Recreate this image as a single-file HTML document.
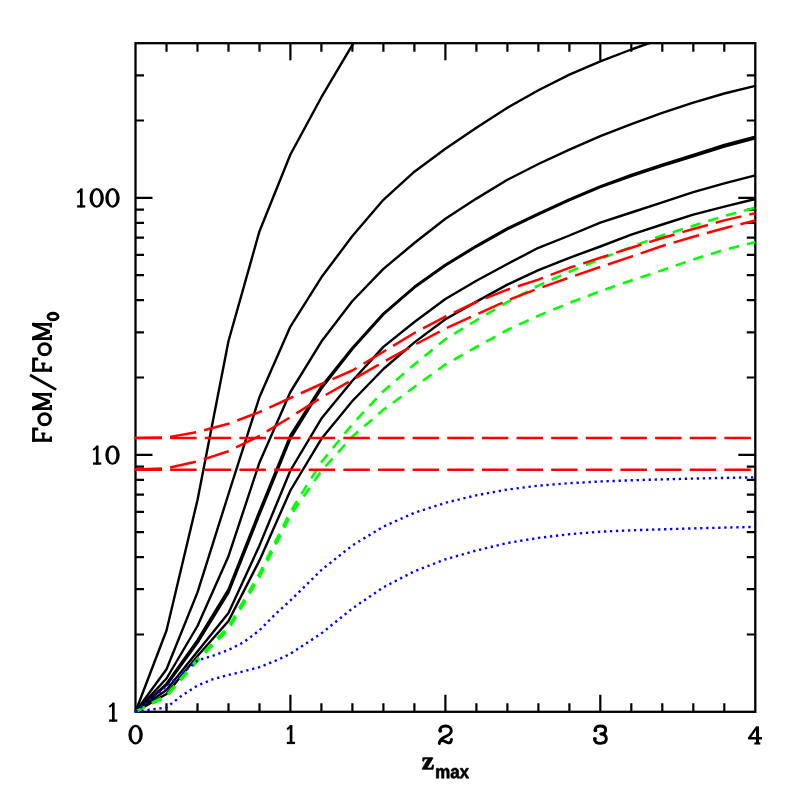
<!DOCTYPE html>
<html><head><meta charset="utf-8"><title>FoM vs zmax</title>
<style>html,body{margin:0;padding:0;background:#fff;}body{width:797px;height:797px;overflow:hidden;font-family:"Liberation Sans",sans-serif;}svg{display:block;}</style>
</head><body>
<svg width="797" height="797" viewBox="0 0 797 797">
<rect x="0" y="0" width="797" height="797" fill="#ffffff"/>
<defs><clipPath id="cp"><rect x="134.3" y="42.0" width="622.2" height="671.0"/></clipPath></defs>
<g stroke="#000" fill="none" stroke-linecap="butt">
<rect x="135.5" y="43.2" width="619.8" height="668.6" stroke-width="2.3"/>
<path d="M166.5,711.8 v-8.5 M166.5,43.2 v8.5 M197.5,711.8 v-8.5 M197.5,43.2 v8.5 M228.5,711.8 v-8.5 M228.5,43.2 v8.5 M259.5,711.8 v-8.5 M259.5,43.2 v8.5 M290.4,711.8 v-17.0 M290.4,43.2 v17.0 M321.4,711.8 v-8.5 M321.4,43.2 v8.5 M352.4,711.8 v-8.5 M352.4,43.2 v8.5 M383.4,711.8 v-8.5 M383.4,43.2 v8.5 M414.4,711.8 v-8.5 M414.4,43.2 v8.5 M445.4,711.8 v-17.0 M445.4,43.2 v17.0 M476.4,711.8 v-8.5 M476.4,43.2 v8.5 M507.4,711.8 v-8.5 M507.4,43.2 v8.5 M538.4,711.8 v-8.5 M538.4,43.2 v8.5 M569.4,711.8 v-8.5 M569.4,43.2 v8.5 M600.3,711.8 v-17.0 M600.3,43.2 v17.0 M631.3,711.8 v-8.5 M631.3,43.2 v8.5 M662.3,711.8 v-8.5 M662.3,43.2 v8.5 M693.3,711.8 v-8.5 M693.3,43.2 v8.5 M724.3,711.8 v-8.5 M724.3,43.2 v8.5 M135.5,634.5 h8.5 M755.3,634.5 h-8.5 M135.5,589.2 h8.5 M755.3,589.2 h-8.5 M135.5,557.1 h8.5 M755.3,557.1 h-8.5 M135.5,532.2 h8.5 M755.3,532.2 h-8.5 M135.5,511.9 h8.5 M755.3,511.9 h-8.5 M135.5,494.7 h8.5 M755.3,494.7 h-8.5 M135.5,479.8 h8.5 M755.3,479.8 h-8.5 M135.5,466.6 h8.5 M755.3,466.6 h-8.5 M135.5,454.8 h17.0 M755.3,454.8 h-17.0 M135.5,377.5 h8.5 M755.3,377.5 h-8.5 M135.5,332.3 h8.5 M755.3,332.3 h-8.5 M135.5,300.2 h8.5 M755.3,300.2 h-8.5 M135.5,275.2 h8.5 M755.3,275.2 h-8.5 M135.5,254.9 h8.5 M755.3,254.9 h-8.5 M135.5,237.7 h8.5 M755.3,237.7 h-8.5 M135.5,222.8 h8.5 M755.3,222.8 h-8.5 M135.5,209.7 h8.5 M755.3,209.7 h-8.5 M135.5,197.9 h17.0 M755.3,197.9 h-17.0 M135.5,120.5 h8.5 M755.3,120.5 h-8.5 M135.5,75.3 h8.5 M755.3,75.3 h-8.5" stroke-width="2.2"/>
</g>
<g clip-path="url(#cp)" fill="none" stroke-linejoin="round">
<path d="M135.5,711.8 L166.5,630.5 L197.5,500.0 L228.5,341.0 L259.5,231.2 L290.4,154.5 L321.4,97.2 L352.4,44.8 L383.4,-5.0" stroke="#000" stroke-width="2.4"/>
<path d="M135.5,711.8 L166.5,669.3 L197.5,592.4 L228.5,494.0 L259.5,397.0 L290.4,326.6 L321.4,277.3 L352.4,236.0 L383.4,199.8 L414.4,171.7 L445.4,148.7 L476.4,127.8 L507.4,107.8 L538.4,90.2 L569.4,74.6 L600.3,61.3 L631.3,49.5 L662.3,38.5 L693.3,28.0" stroke="#000" stroke-width="2.4"/>
<path d="M135.5,711.8 L166.5,678.5 L197.5,626.0 L228.5,556.2 L259.5,462.4 L290.4,392.0 L321.4,341.6 L352.4,301.0 L383.4,268.9 L414.4,243.0 L445.4,218.7 L476.4,198.6 L507.4,179.8 L538.4,164.0 L569.4,149.7 L600.3,136.1 L631.3,124.1 L662.3,112.8 L693.3,102.7 L724.3,93.5 L755.3,85.9" stroke="#000" stroke-width="2.4"/>
<path d="M135.5,711.8 L166.5,690.0 L197.5,651.5 L228.5,613.0 L259.5,545.4 L290.4,470.5 L321.4,418.6 L352.4,380.8 L383.4,346.9 L414.4,322.0 L445.4,299.0 L476.4,280.8 L507.4,264.0 L538.4,247.8 L569.4,235.5 L600.3,222.7 L631.3,212.5 L662.3,202.3 L693.3,192.2 L724.3,183.4 L755.3,175.3" stroke="#000" stroke-width="2.4"/>
<path d="M135.5,711.8 L166.5,694.0 L197.5,656.0 L228.5,621.0 L259.5,560.4 L290.4,490.5 L321.4,438.8 L352.4,401.0 L383.4,369.0 L414.4,342.4 L445.4,319.3 L476.4,301.6 L507.4,284.6 L538.4,270.2 L569.4,257.8 L600.3,246.5 L631.3,234.6 L662.3,224.5 L693.3,214.6 L724.3,206.6 L755.3,199.0" stroke="#000" stroke-width="2.4"/>
<path d="M135.5,711.8 L166.5,683.8 L197.5,640.1 L228.5,589.5 L259.5,511.2 L290.4,435.5 L321.4,386.5 L352.4,347.8 L383.4,313.6 L414.4,286.8 L445.4,264.8 L476.4,245.8 L507.4,228.3 L538.4,213.5 L569.4,199.4 L600.3,186.4 L631.3,175.0 L662.3,164.7 L693.3,155.0 L724.3,145.0 L755.3,136.6" stroke="#000" stroke-width="2.4"/>
<path d="M135.5,711.8 L166.5,685.2 L197.5,642.9 L228.5,592.5 L259.5,514.4 L290.4,438.5 L321.4,388.5 L352.4,349.0 L383.4,314.4 L414.4,287.6 L445.4,265.6 L476.4,246.6 L507.4,229.1 L538.4,214.3 L569.4,200.2 L600.3,187.2 L631.3,176.0 L662.3,165.9 L693.3,156.4 L724.3,146.6 L755.3,138.4" stroke="#000" stroke-width="2.4"/>
<path d="M135.5,711.8 L166.5,695.2 L197.5,658.8 L228.5,626.8 L259.5,573.6 L290.4,511.8 L321.4,462.3 L352.4,424.2 L383.4,391.2 L414.4,364.5 L445.4,339.3 L476.4,320.3 L507.4,302.1 L538.4,285.6 L569.4,271.8 L600.3,259.0 L631.3,247.0 L662.3,235.4 L693.3,225.8 L724.3,216.0 L755.3,207.8" stroke="#00ff00" stroke-width="2.6" stroke-dasharray="10.5 8.1"/>
<path d="M135.5,711.8 L166.5,696.6 L197.5,661.0 L228.5,629.4 L259.5,577.0 L290.4,515.5 L321.4,471.0 L352.4,436.6 L383.4,409.8 L414.4,387.0 L445.4,364.5 L476.4,347.0 L507.4,330.0 L538.4,315.7 L569.4,303.0 L600.3,291.2 L631.3,280.4 L662.3,270.3 L693.3,259.5 L724.3,249.8 L755.3,242.1" stroke="#00ff00" stroke-width="2.6" stroke-dasharray="10.5 8.1"/>
<path d="M134.3,438.0 h2" stroke="#ff0000" stroke-width="2.5"/>
<path d="M135.5,438.0 L755.3,438.0" stroke="#ff0000" stroke-width="2.5" stroke-dasharray="26.5 8.14"/>
<path d="M134.3,469.7 h2" stroke="#ff0000" stroke-width="2.5"/>
<path d="M135.5,469.7 L755.3,469.7" stroke="#ff0000" stroke-width="2.5" stroke-dasharray="26.5 8.14"/>
<path d="M135.5,438.0 L166.5,437.5 L197.5,432.0 L228.5,423.8 L259.5,412.1 L290.4,398.0 L321.4,384.0 L352.4,370.5 L383.4,351.7 L414.4,333.0 L445.4,316.6 L476.4,302.0 L507.4,289.7 L538.4,279.6 L569.4,267.8 L600.3,257.8 L631.3,247.8 L662.3,238.0 L693.3,229.0 L724.3,220.4 L755.3,213.1" stroke="#ff0000" stroke-width="2.5" stroke-dasharray="26.5 8.14"/>
<path d="M135.5,469.6 L166.5,468.4 L197.5,461.3 L228.5,451.3 L259.5,435.8 L290.4,417.2 L321.4,397.5 L352.4,379.8 L383.4,362.0 L414.4,345.0 L445.4,328.6 L476.4,314.5 L507.4,300.3 L538.4,288.5 L569.4,277.5 L600.3,267.0 L631.3,256.6 L662.3,246.0 L693.3,236.8 L724.3,228.2 L755.3,220.5" stroke="#ff0000" stroke-width="2.5" stroke-dasharray="26.5 8.14"/>
<path d="M135.5,711.8 L166.5,686.3 L197.5,660.5 L213.0,655.7 L228.5,650.0 L244.0,642.0 L259.5,630.3 L275.0,614.5 L290.4,600.5 L321.4,570.0 L352.4,545.4 L383.4,526.6 L414.4,512.8 L445.4,502.8 L476.4,495.3 L507.4,489.5 L538.4,485.7 L569.4,483.2 L600.3,481.5 L631.3,480.3 L662.3,479.4 L693.3,478.6 L724.3,477.9 L755.3,477.3" stroke="#0000ff" stroke-width="2.4" stroke-dasharray="2.3 3.72"/>
<path d="M135.5,711.8 L151.0,709.6 L166.5,707.5 L174.2,701.5 L182.0,695.5 L197.5,685.5 L213.0,679.2 L228.5,675.0 L244.0,671.3 L259.5,667.1 L275.0,661.0 L290.4,653.8 L321.4,633.4 L352.4,608.4 L383.4,587.3 L414.4,571.3 L445.4,559.3 L476.4,550.5 L507.4,543.0 L538.4,537.9 L569.4,534.2 L600.3,531.7 L631.3,530.3 L662.3,529.3 L693.3,528.4 L724.3,527.6 L755.3,526.9" stroke="#0000ff" stroke-width="2.4" stroke-dasharray="2.3 3.72"/>
</g>
<g>
<path fill="#000" fill-rule="evenodd" d="M128.40,734.65 a7.2,9.8 0 1,0 14.4,0 a7.2,9.8 0 1,0 -14.4,0 Z M131.70,734.65 a3.9,7.6 0 1,0 7.8,0 a3.9,7.6 0 1,0 -7.8,0 Z"/>
<path fill="none" stroke="#000" stroke-width="2.7" d="M291.05,725.05 V743.85"/><path fill="none" stroke="#000" stroke-width="2.0" d="M291.65,725.65 L287.05,729.35"/><path fill="none" stroke="#000" stroke-width="2.3" d="M286.85,742.95 H295.05"/>
<path fill="none" stroke="#000" stroke-width="2.9" stroke-linecap="round" stroke-linejoin="round" d="M440.10,731.05 C439.30,728.45 441.50,726.05 445.60,726.05 C449.50,726.05 451.30,728.25 451.30,730.65 C451.30,733.85 448.10,735.45 444.90,736.85 C441.70,738.25 439.70,740.25 439.30,743.45 M439.60,741.45 C441.10,740.05 443.50,740.45 446.10,742.05 C448.50,743.45 450.90,743.45 451.50,739.45"/><circle cx="440.30" cy="730.65" r="1.9" fill="#000"/>
<path fill="none" stroke="#000" stroke-width="2.9" stroke-linecap="round" stroke-linejoin="round" d="M595.25,730.45 C594.65,727.65 597.25,726.05 600.45,726.05 C603.85,726.05 605.65,727.65 605.65,730.05 C605.65,732.45 603.65,733.85 600.65,733.95 C604.25,734.05 606.35,736.05 606.35,738.85 C606.35,741.85 603.65,743.35 600.25,743.35 C596.85,743.35 594.25,741.85 594.65,739.05"/><circle cx="595.35" cy="730.25" r="1.9" fill="#000"/><circle cx="594.95" cy="738.85" r="1.9" fill="#000"/>
<path fill="none" stroke="#000" stroke-width="3.0" d="M757.50,726.35 V744.05"/><path fill="none" stroke="#000" stroke-width="2.3" stroke-linejoin="round" d="M756.90,727.05 L749.00,738.25 H762.00"/><path fill="none" stroke="#000" stroke-width="2.2" d="M754.30,743.45 H760.30"/>
<path fill="none" stroke="#000" stroke-width="2.7" d="M81.30,188.50 V207.30"/><path fill="none" stroke="#000" stroke-width="2.0" d="M81.90,189.10 L77.30,192.80"/><path fill="none" stroke="#000" stroke-width="2.3" d="M77.10,206.40 H85.30"/>
<path fill="#000" fill-rule="evenodd" d="M89.50,197.90 a7.2,9.8 0 1,0 14.4,0 a7.2,9.8 0 1,0 -14.4,0 Z M92.80,197.90 a3.9,7.6 0 1,0 7.8,0 a3.9,7.6 0 1,0 -7.8,0 Z"/>
<path fill="#000" fill-rule="evenodd" d="M105.30,197.90 a7.2,9.8 0 1,0 14.4,0 a7.2,9.8 0 1,0 -14.4,0 Z M108.60,197.90 a3.9,7.6 0 1,0 7.8,0 a3.9,7.6 0 1,0 -7.8,0 Z"/>
<path fill="none" stroke="#000" stroke-width="2.7" d="M97.20,445.65 V464.45"/><path fill="none" stroke="#000" stroke-width="2.0" d="M97.80,446.25 L93.20,449.95"/><path fill="none" stroke="#000" stroke-width="2.3" d="M93.00,463.55 H101.20"/>
<path fill="#000" fill-rule="evenodd" d="M105.30,455.05 a7.2,9.8 0 1,0 14.4,0 a7.2,9.8 0 1,0 -14.4,0 Z M108.60,455.05 a3.9,7.6 0 1,0 7.8,0 a3.9,7.6 0 1,0 -7.8,0 Z"/>
<path fill="none" stroke="#000" stroke-width="2.7" d="M113.30,702.70 V721.50"/><path fill="none" stroke="#000" stroke-width="2.0" d="M113.90,703.30 L109.30,707.00"/><path fill="none" stroke="#000" stroke-width="2.3" d="M109.10,720.60 H117.30"/>
</g>
<path transform="translate(421.70,769.20) scale(0.01367,-0.01221)" fill="#000" stroke="#000" stroke-width="66" stroke-linejoin="round" d="M40 0V45L472 850H365Q309 850 257 840Q205 831 185 815L154 660H82V940H812V891L380 90H530Q587 90 650 104Q713 117 739 137L792 354H864L837 0Z"/>
<path transform="translate(435.20,778.20) scale(0.00826,-0.00918)" fill="#000" stroke="#000" stroke-width="76" stroke-linejoin="round" d="M780 0V607Q780 892 616 892Q531 892 478 805Q424 718 424 580V0H143V840Q143 927 140 982Q138 1038 135 1082H403Q406 1063 411 980Q416 898 416 867H420Q472 991 550 1047Q627 1103 735 1103Q983 1103 1036 867H1042Q1097 993 1174 1048Q1251 1103 1370 1103Q1528 1103 1611 996Q1694 888 1694 687V0H1415V607Q1415 892 1251 892Q1169 892 1116 812Q1064 733 1059 593V0Z"/><path transform="translate(450.24,778.20) scale(0.00826,-0.00918)" fill="#000" stroke="#000" stroke-width="76" stroke-linejoin="round" d="M393 -20Q236 -20 148 66Q60 151 60 306Q60 474 170 562Q279 650 487 652L720 656V711Q720 817 683 868Q646 920 562 920Q484 920 448 884Q411 849 402 767L109 781Q136 939 254 1020Q371 1102 574 1102Q779 1102 890 1001Q1001 900 1001 714V320Q1001 229 1022 194Q1042 160 1090 160Q1122 160 1152 166V14Q1127 8 1107 3Q1087 -2 1067 -5Q1047 -8 1024 -10Q1002 -12 972 -12Q866 -12 816 40Q765 92 755 193H749Q631 -20 393 -20ZM720 501 576 499Q478 495 437 478Q396 460 374 424Q353 388 353 328Q353 251 388 214Q424 176 483 176Q549 176 604 212Q658 248 689 312Q720 375 720 446Z"/><path transform="translate(459.65,778.20) scale(0.00826,-0.00918)" fill="#000" stroke="#000" stroke-width="76" stroke-linejoin="round" d="M819 0 567 392 313 0H14L410 559L33 1082H336L567 728L797 1082H1102L725 562L1124 0Z"/>
<g>
<path fill="none" stroke="#000" stroke-width="3.1" d="M32.0,440.2 H52.0"/><path fill="none" stroke="#000" stroke-width="2.9" d="M33.6,441.7 V427.8 M32.3,429.0 H38.2"/><path fill="none" stroke="#000" stroke-width="2.4" d="M43.3,440.0 V433.2 M41.2,433.6 H45.4"/><path fill="none" stroke="#000" stroke-width="2.4" d="M50.8,436.4 V441.8"/><ellipse cx="44.6" cy="419.2" rx="5.75" ry="5.45" fill="none" stroke="#000" stroke-width="3.1"/><path fill="none" stroke="#000" stroke-width="2.6" d="M32.2,408.6 H52.0 M32.2,394.4 H52.0"/><path fill="none" stroke="#000" stroke-width="3.4" stroke-linejoin="miter" d="M33.4,408.1 L49.8,401.5"/><path fill="none" stroke="#000" stroke-width="2.7" d="M49.8,401.5 L33.4,394.9"/><path fill="none" stroke="#000" stroke-width="2.4" d="M50.8,405.0 V410.2 M50.8,392.7 V397.6 M33.4,406.5 V410.2 M33.4,392.7 V396.0"/>
<path fill="none" stroke="#000" stroke-width="3.1" d="M32.0,370.2 H52.0"/><path fill="none" stroke="#000" stroke-width="2.9" d="M33.6,371.7 V357.8 M32.3,359.0 H38.2"/><path fill="none" stroke="#000" stroke-width="2.4" d="M43.3,370.0 V363.2 M41.2,363.6 H45.4"/><path fill="none" stroke="#000" stroke-width="2.4" d="M50.8,366.4 V371.8"/><ellipse cx="44.6" cy="349.2" rx="5.75" ry="5.45" fill="none" stroke="#000" stroke-width="3.1"/><path fill="none" stroke="#000" stroke-width="2.6" d="M32.2,338.6 H52.0 M32.2,324.4 H52.0"/><path fill="none" stroke="#000" stroke-width="3.4" stroke-linejoin="miter" d="M33.4,338.1 L49.8,331.5"/><path fill="none" stroke="#000" stroke-width="2.7" d="M49.8,331.5 L33.4,324.9"/><path fill="none" stroke="#000" stroke-width="2.4" d="M50.8,335.0 V340.2 M50.8,322.7 V327.6 M33.4,336.5 V340.2 M33.4,322.7 V326.0"/>
<path fill="none" stroke="#000" stroke-width="2.8" d="M56.1,389.6 L30.0,375.0"/>
<ellipse cx="53.0" cy="316.5" rx="5.0" ry="3.2" fill="none" stroke="#000" stroke-width="2.9"/>
</g>
</svg>
</body></html>
